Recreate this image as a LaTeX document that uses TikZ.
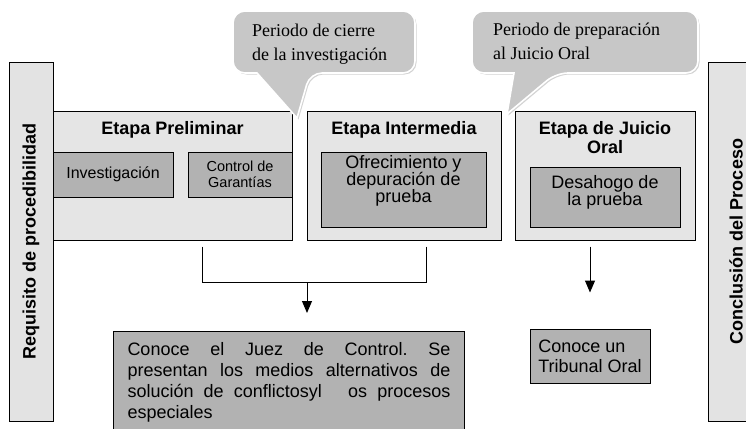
\documentclass[tikz,border=0pt]{standalone}
\usepackage{fontspec}
\setmainfont{Liberation Serif}
\setsansfont{Liberation Sans}
\usetikzlibrary{positioning,arrows.meta,shadows}
\frenchspacing

\begin{document}
\begin{tikzpicture}[x=1pt,y=-1pt]
\tikzstyle{bar}=[draw, fill=black!11, line width=1pt, inner sep=0pt, minimum height=359pt]
\tikzstyle{stage}=[draw, fill=black!10, line width=1pt, inner sep=0pt]
\tikzstyle{inbox}=[draw, fill=black!30, line width=1pt, inner sep=0pt, align=center,
                   font=\sffamily\fontsize{18}{17}\selectfont]
\tikzstyle{ttl}=[inner sep=0pt, align=center, font=\sffamily\bfseries\fontsize{18}{19}\selectfont]
\tikzstyle{vlbl}=[rotate=90, inner sep=0pt, font=\sffamily\bfseries\fontsize{18}{18}\selectfont]
\tikzstyle{bubble}=[draw=white, line width=1.6pt, fill=black!22,
                    drop shadow={opacity=0.35, shadow xshift=1.5pt, shadow yshift=-1.5pt}]
\tikzstyle{btxt}=[inner sep=0pt, anchor=north west, align=left, font=\fontsize{18}{24}\selectfont]
\tikzstyle{link}=[line width=1pt]
\tikzstyle{arr}=[link, -{Triangle[width=10pt, length=12pt]}]
\useasboundingbox (0,0) rectangle (746,428);
\clip (0,0) rectangle (746,428);

% side bars
\node[bar, minimum width=44pt] (req) at (31,241.5) {};
\node[bar, minimum width=56pt] (concl) at (736,241.5) {};
\node[vlbl] (reqt) at (req.center) {Requisito de procedibilidad};
\node[vlbl] (conclt) at (concl.center) {Conclusión del Proceso};

% stages
\node[stage, minimum width=239pt, minimum height=129pt] (prel) at (172.5,175.5) {};
\node[stage, minimum width=194pt, minimum height=129pt] (inter) at (404,175.5) {};
\node[stage, minimum width=180pt, minimum height=129pt] (jui) at (605,175.5) {};
\node[ttl, below=11pt of prel.north] (prelt) {Etapa Preliminar};
\node[ttl, below=11pt of inter.north] (intert) {Etapa Intermedia};
\node[ttl, below=11pt of jui.north] (juit) {Etapa de Juicio\\Oral};

% inner boxes
\node[inbox, minimum width=120pt, minimum height=45pt,
      font=\sffamily\fontsize{16}{17}\selectfont] (inv) at (113,174.5) {Investigación};
\node[inbox, minimum width=104pt, minimum height=45pt,
      font=\sffamily\fontsize{14.5}{16}\selectfont] (gar) at (240,174.5) {Control de\\Garantías};
\node[inbox, minimum width=165pt, minimum height=75pt, text depth=21pt] (ofr) at (403.5,189.5)
     {Ofrecimiento y\\depuración de\\prueba};
\node[inbox, minimum width=150pt, minimum height=60pt, text depth=13pt] (des) at (605,197)
     {Desahogo de\\la prueba};

% results
\node[inbox, anchor=north west, inner xsep=14pt, inner ysep=11pt, align=left] (juez) at (113,331)
     {\parbox[t][100pt][t]{323pt}{\baselineskip=21pt
      \makebox[323pt][s]{Conoce el Juez de Control. Se}\\
      \makebox[323pt][s]{presentan los medios alternativos de}\\
      \makebox[323pt][s]{solución de conflictosyl\hspace{16pt} os procesos}\\
      especiales}};
\node[inbox, minimum width=120pt, minimum height=54pt, align=left,
      font=\sffamily\fontsize{18}{20}\selectfont] (trib) at (590,356)
     {Conoce un\\Tribunal Oral};

% connectors
\coordinate (j) at (307,282);
\draw[link, shorten <=6pt] ([xshift=29.5pt]prel.south) |- (j);
\draw[link, shorten <=6pt] ([xshift=22pt]inter.south) |- (j);
\draw[arr, shorten >=18pt] (j) -- (j |- juez.north);
\draw[arr, shorten <=6pt, shorten >=36pt] (jui.south -| trib.north) -- (trib.north);

% callouts
\path[bubble] (233,42) [rounded corners=12pt] -- (233,11) -- (415,11) -- (415,73)
     -- (310,73) [sharp corners] -- (297,118) -- (257,73) [rounded corners=12pt] -- (233,73) -- cycle;
\path[bubble] (472,42) [rounded corners=12pt] -- (472,11) -- (698,11) -- (698,73)
     -- (556,73) [sharp corners] -- (507,114) -- (514,73) [rounded corners=12pt] -- (472,73) -- cycle;
\node[btxt] (cierre) at (252,24) {Periodo de cierre\\de la investigación};
\node[btxt] (prep) at (493,23) {Periodo de preparación\\al Juicio Oral};
\end{tikzpicture}
\end{document}
